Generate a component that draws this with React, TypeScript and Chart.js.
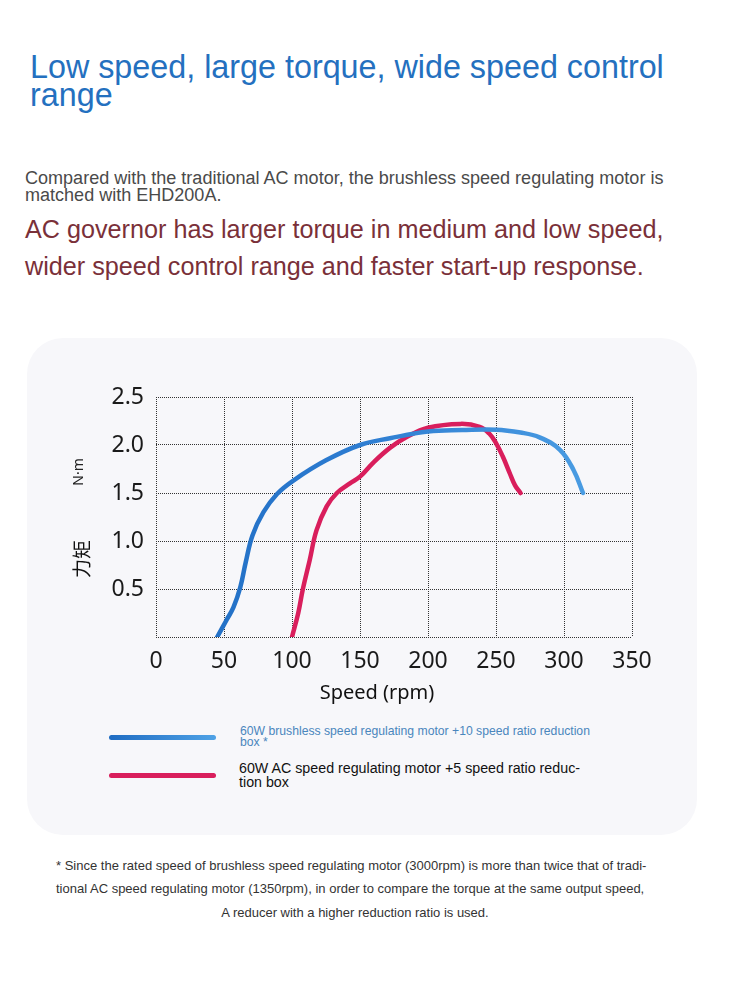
import React, { useEffect, useRef } from "react";
import { Chart, registerables } from "chart.js";

Chart.register(...registerables);

// ---- data ----
const xTickValues = [0, 50, 100, 150, 200, 250, 300, 350];
const yTickValues = [0, 0.5, 1.0, 1.5, 2.0, 2.5];

const brushlessSpeed = [45, 52, 57, 62, 66, 71, 79, 89, 101, 125, 150, 172, 200, 225, 250, 268, 282, 297, 307, 314];
const brushlessTorque = [0, 0.18, 0.31, 0.52, 0.78, 1.06, 1.3, 1.49, 1.63, 1.84, 2.0, 2.07, 2.14, 2.155, 2.16, 2.13, 2.08, 1.95, 1.74, 1.5];

const acSpeed = [100, 104.6, 108, 113, 118, 125.5, 133, 142.6, 150, 160, 172, 184, 200, 224, 238, 245, 250, 255, 260, 264, 268];
const acTorque = [0, 0.25, 0.5, 0.8, 1.11, 1.36, 1.5, 1.6, 1.67, 1.82, 1.97, 2.08, 2.18, 2.22, 2.19, 2.12, 2.02, 1.88, 1.71, 1.58, 1.5];

const seriesLabels = [
  "60W brushless speed regulating motor +10 speed ratio reduction box *",
  "60W AC speed regulating motor +5 speed ratio reduction box",
];
const xAxisTitle = "Speed (rpm)";
const yAxisTitle = "力矩";
const yAxisUnit = "N·m";

const BLUE_DARK = "#1f6cc2";
const BLUE_LIGHT = "#4fa2e6";
const RED = "#d91e5c";

const CHART_FONT = "'Noto Sans', 'DejaVu Sans', sans-serif";
const TEXT_FONT = "'Liberation Sans', Arial, sans-serif";

const axisTitlePlugin = {
  id: "axisTitles",
  afterDraw(chart: any) {
    const { ctx, chartArea } = chart;
    const midX = (chartArea.left + chartArea.right) / 2;
    const midY = (chartArea.top + chartArea.bottom) / 2;
    ctx.save();
    ctx.fillStyle = "#111";
    ctx.textAlign = "center";
    ctx.textBaseline = "middle";
    ctx.font = `20px ${CHART_FONT}`;
    ctx.fillText(xAxisTitle, midX - 17, chartArea.bottom + 56);
    // rotated y title
    ctx.translate(chartArea.left - 74, midY + 42);
    ctx.rotate(-Math.PI / 2);
    ctx.font = `19px 'Noto Sans CJK SC', sans-serif`;
    ctx.fillText(yAxisTitle, 0, 0);
    ctx.restore();
    ctx.save();
    ctx.translate(chartArea.left - 77, midY - 45);
    ctx.rotate(-Math.PI / 2);
    ctx.fillStyle = "#222";
    ctx.textAlign = "center";
    ctx.textBaseline = "middle";
    ctx.font = `14px ${CHART_FONT}`;
    ctx.fillText(yAxisUnit, 0, 0);
    ctx.restore();
  },
};

function TorqueChart() {
  const ref = useRef<HTMLCanvasElement | null>(null);
  useEffect(() => {
    if (!ref.current) return;
    const blueGradient = (c: any) => {
      const chart = c.chart;
      const area = chart.chartArea;
      if (!area) return BLUE_DARK;
      const g = chart.ctx.createLinearGradient(area.left, 0, area.right, 0);
      g.addColorStop(0, BLUE_DARK);
      g.addColorStop(0.4, "#2c7bd0");
      g.addColorStop(1, BLUE_LIGHT);
      return g;
    };
    const lineStyle = {
      borderWidth: 4.5,
      pointRadius: 0,
      tension: 0.4,
      borderCapStyle: "round",
      borderJoinStyle: "round",
      fill: false,
    };
    const chart = new Chart(ref.current, {
      type: "line",
      data: {
        datasets: [
          {
            label: seriesLabels[0],
            data: brushlessSpeed.map((s, i) => ({ x: s, y: brushlessTorque[i] })),
            borderColor: blueGradient,
            ...lineStyle,
          },
          {
            label: seriesLabels[1],
            data: acSpeed.map((s, i) => ({ x: s, y: acTorque[i] })),
            borderColor: RED,
            ...lineStyle,
          },
        ],
      },
      options: {
        animation: false,
        responsive: false,
        maintainAspectRatio: false,
        layout: { padding: { top: 27, right: 58, left: 0, bottom: 0 } },
        plugins: {
          legend: { display: false },
          tooltip: { enabled: false },
        },
        scales: {
          x: {
            type: "linear",
            min: xTickValues[0],
            max: xTickValues[xTickValues.length - 1],
            afterBuildTicks: (s: any) => {
              s.ticks = xTickValues.map((v) => ({ value: v }));
            },
            afterFit: (s: any) => {
              s.height = 83;
            },
            grid: { color: "#333", lineWidth: 1, drawTicks: false },
            border: { display: false, dash: [1, 1] },
            ticks: {
              padding: 11,
              color: "#1a1a1a",
              font: { family: CHART_FONT, size: 23 },
              maxRotation: 0,
            },
          },
          y: {
            type: "linear",
            min: yTickValues[0],
            max: yTickValues[yTickValues.length - 1],
            afterBuildTicks: (s: any) => {
              s.ticks = yTickValues.map((v) => ({ value: v }));
            },
            afterFit: (s: any) => {
              s.width = 96;
            },
            grid: { color: "#333", lineWidth: 1, drawTicks: false },
            border: { display: false, dash: [1, 1] },
            ticks: {
              padding: 12,
              color: "#1a1a1a",
              font: { family: CHART_FONT, size: 23 },
              callback: (v: any) => (Number(v) === 0 ? "" : Number(v).toFixed(1)),
            },
          },
        },
      },
      plugins: [axisTitlePlugin],
    } as any);
    return () => chart.destroy();
  }, []);
  return (
    <canvas
      ref={ref}
      width={630}
      height={350}
      style={{ position: "absolute", left: 60, top: 370, width: 630, height: 350 }}
    />
  );
}

const abs = (left: number, top: number, extra: React.CSSProperties = {}): React.CSSProperties => ({
  position: "absolute",
  left,
  top,
  whiteSpace: "nowrap",
  fontFamily: TEXT_FONT,
  ...extra,
});

export default function App() {
  return (
    <div style={{ position: "absolute", left: 0, top: 0, width: 750, height: 1000, background: "#fff", overflow: "hidden" }}>
      <div style={abs(30, 52.5, { fontSize: 32.3, lineHeight: "28.4px", color: "#2470bf" })}>
        Low speed, large torque, wide speed control
        <br />
        range
      </div>
      <div style={abs(25, 170.3, { fontSize: 18.05, lineHeight: "16.7px", color: "#4a4a4a" })}>
        Compared with the traditional AC motor, the brushless speed regulating motor is
        <br />
        matched with EHD200A.
      </div>
      <div style={abs(25, 211, { fontSize: 25.2, lineHeight: "36.7px", color: "#7a3039" })}>
        AC governor has larger torque in medium and low speed,
        <br />
        wider speed control range and faster start-up response.
      </div>

      <div
        style={{
          position: "absolute",
          left: 27,
          top: 338,
          width: 670,
          height: 497,
          borderRadius: 36,
          background: "#f7f7fa",
        }}
      />
      <TorqueChart />

      {/* legend */}
      <div
        style={{
          position: "absolute",
          left: 109,
          top: 735,
          width: 107,
          height: 4.5,
          borderRadius: 3,
          background: `linear-gradient(90deg, ${BLUE_DARK}, ${BLUE_LIGHT})`,
        }}
      />
      <div style={abs(240, 725.6, { fontSize: 12.2, lineHeight: "11.6px", color: "#4a86bd" })}>
        60W brushless speed regulating motor +10 speed ratio reduction
        <br />
        box *
      </div>
      <div
        style={{
          position: "absolute",
          left: 109,
          top: 773,
          width: 107,
          height: 4.5,
          borderRadius: 3,
          background: RED,
        }}
      />
      <div style={abs(239, 760.9, { fontSize: 14.25, lineHeight: "14px", color: "#111" })}>
        60W AC speed regulating motor +5 speed ratio reduc-
        <br />
        tion box
      </div>

      {/* footnote */}
      <div style={abs(56, 854, { fontSize: 13, lineHeight: "23.4px", color: "#333" })}>
        * Since the rated speed of brushless speed regulating motor (3000rpm) is more than twice that of tradi-
        <br />
        tional AC speed regulating motor (1350rpm), in order to compare the torque at the same output speed,
      </div>
      <div
        style={abs(0, 901, {
          width: 710,
          textAlign: "center",
          fontSize: 13,
          lineHeight: "23.4px",
          color: "#333",
        })}
      >
        A reducer with a higher reduction ratio is used.
      </div>
    </div>
  );
}
